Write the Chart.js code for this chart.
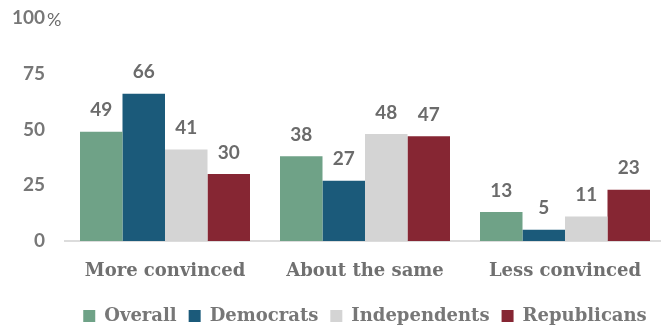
<!DOCTYPE html>
<html><head><meta charset="utf-8">
<script src="https://cdn.jsdelivr.net/npm/chart.js@4"></script>
<style>html,body{margin:0;padding:0;background:#fff}#wrap{width:661px;height:329px;overflow:hidden}</style>
</head><body><div id="wrap"><canvas id="c" width="665" height="335"></canvas></div>
<script>
const categories = ["More convinced", "About the same", "Less convinced"];
const overall = [49, 38, 13];
const democrats = [66, 27, 5];
const independents = [41, 48, 11];
const republicans = [30, 47, 23];
const seriesNames = ["Overall", "Democrats", "Independents", "Republicans"];
const seriesColors = ["#6fa287", "#1b5a7a", "#d4d4d4", "#862633"];
const yTicks = [0, 25, 50, 75, 100];

const slab = "'DejaVu Serif', serif";
const sans = "Lato, 'Open Sans', sans-serif";

const labelPlugin = {
  id: 'vals',
  afterDatasetsDraw(chart) {
    const ctx = chart.ctx;
    ctx.save();
    ctx.font = "bold 19px " + sans;
    ctx.fillStyle = "#6b6b6b";
    ctx.textAlign = "center";
    ctx.textBaseline = "bottom";
    chart.data.datasets.forEach((ds, i) => {
      chart.getDatasetMeta(i).data.forEach((bar, j) => {
        ctx.fillText(String(ds.data[j]), bar.x, bar.y - 12);
      });
    });
    const ys = chart.scales.y;
    ctx.font = "18px " + sans;
    ctx.fillStyle = "#6b6b6b";
    ctx.textAlign = "left";
    ctx.textBaseline = "middle";
    ctx.fillText("%", 47, ys.getPixelForValue(100) + 2);
    ctx.restore();
  }
};

new Chart(document.getElementById('c'), {
  type: 'bar',
  data: {
    labels: categories,
    datasets: [overall, democrats, independents, republicans].map((d, i) => ({
      label: seriesNames[i], data: d, backgroundColor: seriesColors[i],
      categoryPercentage: 0.85, barPercentage: 1
    }))
  },
  options: {
    responsive: false, animation: false,
    layout: { padding: { top: 18, right: 0, left: 0, bottom: 0 } },
    plugins: {
      tooltip: { enabled: false },
      legend: {
        position: 'bottom', fullSize: false,
        labels: { boxWidth: 12, boxHeight: 12, padding: 12, color: "#777", font: { family: slab, size: 18, weight: 'bold' } }
      }
    },
    scales: {
      x: {
        afterFit(s) { s.height = 54; },
        grid: { display: false },
        border: { display: true, color: "#dcdcdc", width: 2 },
        ticks: { color: "#707070", font: { family: slab, size: 18, weight: 'bold' }, padding: 12 }
      },
      y: {
        min: 0, max: 100,
        afterBuildTicks(s) { s.ticks = yTicks.map(v => ({ value: v })); },
        afterFit(s) { s.width = 65; s.paddingTop = 0; s.paddingBottom = 0; },
        grid: { display: false },
        border: { display: false },
        ticks: { color: "#777", font: { family: sans, size: 19, weight: 'bold' }, padding: 12 }
      }
    }
  },
  plugins: [labelPlugin]
});
</script></body></html>
